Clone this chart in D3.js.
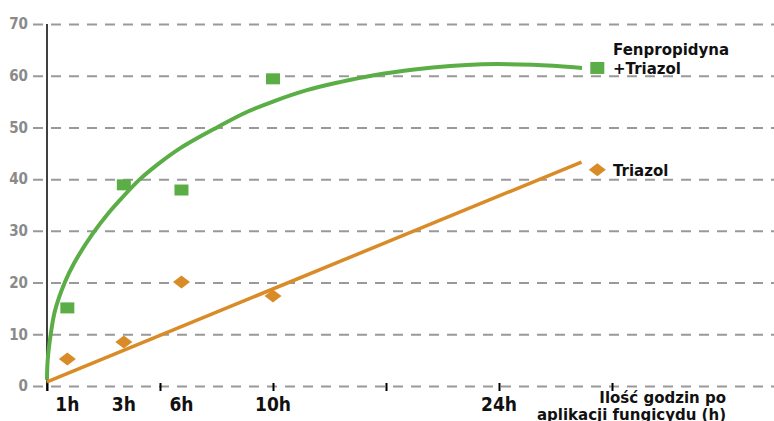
<!DOCTYPE html>
<html>
<head>
<meta charset="utf-8">
<script src="https://cdn.jsdelivr.net/npm/d3@7"></script>
<style>
  body { margin: 0; background: #fff; }
  svg { display: block; }
  .ylab { font-family: "Liberation Sans Narrow", "DejaVu Sans Condensed", sans-serif; font-weight: bold; font-size: 15px; fill: #8a8a8a; }
  .xlab { font-family: "Liberation Sans Narrow", "DejaVu Sans Condensed", sans-serif; font-weight: bold; font-size: 19px; fill: #111; }
  .ttl { font-family: "DejaVu Sans", sans-serif; font-weight: bold; font-size: 15px; fill: #111; }
</style>
</head>
<body>
<svg class="root"></svg>
<script>
// hour categories and where they sit along the (non-linear) x axis, in tick steps
var hours = ["1h", "3h", "6h", "10h", "24h"];
var hourPos = [0.18, 0.68, 1.19, 2.0, 4.0];

// measured points (first four categories)
var fenTriazol = [15.1, 38.9, 37.9, 59.4];
var triazol = [5.2, 8.5, 20.1, 17.4];

// fitted curve
var fitFenX = [0, 0.006, 0.033, 0.07, 0.157, 0.236, 0.403, 0.55, 0.664, 0.823, 1.0,
               1.18, 1.504, 1.75, 2.0, 2.3, 2.6, 2.87, 3.25, 3.85, 4.3, 4.735];
var fitFenY = [1.2, 5, 10, 14.5, 20, 23.6, 29.4, 33.6, 36.4, 40, 43.2,
               46.0, 50, 52.8, 55.0, 57.2, 58.8, 60, 61.2, 62.2, 62.1, 61.5];
var fitTriX = [0, 4.73];
var fitTriY = [0.8, 43.3];

// legend entries
var legendNames = [["Fenpropidyna", "+Triazol"], ["Triazol"]];
var legendY = [61.5, 41.8];
var legendX = 4.87;

var yTicks = [0, 10, 20, 30, 40, 50, 60, 70];
var xTicks = [0, 1, 2, 3, 4, 5];

var width = 774, height = 421,
    green = "#5bae46", orange = "#d98b27";

var svg = d3.select(".root").attr("width", width).attr("height", height);

var x = d3.scaleLinear().domain([0, 5]).range([47, 612]);
var y = d3.scaleLinear().domain([0, 70]).range([386, 24]);

// dashed grid + y labels
var yAxis = svg.append("g")
    .attr("transform", "translate(33,0)")
    .call(d3.axisLeft(y).tickValues(yTicks).tickSize(-(width - 33)).tickPadding(5));
yAxis.select(".domain").remove();
yAxis.selectAll("line")
    .attr("stroke", "#999")
    .attr("stroke-width", 2)
    .attr("stroke-dasharray", "10,8");
yAxis.selectAll("text").attr("class", "ylab").attr("font-size", null).attr("font-family", null);

// vertical axis line
svg.append("line")
    .attr("x1", x(0)).attr("x2", x(0))
    .attr("y1", y(70)).attr("y2", y(0) + 5)
    .attr("stroke", "#000").attr("stroke-width", 1.5);

// x ticks
var xAxis = svg.append("g")
    .attr("transform", "translate(0," + (y(0) - 3) + ")")
    .call(d3.axisBottom(x).tickValues(xTicks).tickSize(8).tickFormat(""));
xAxis.select(".domain").remove();
xAxis.selectAll("line").attr("stroke", "#000").attr("stroke-width", 2);

svg.selectAll(".xlab")
    .data(hours)
  .enter().append("text")
    .attr("class", "xlab")
    .attr("x", (d, i) => x(hourPos[i]))
    .attr("y", 411)
    .attr("text-anchor", "middle")
    .text(d => d);

// axis title
svg.append("text")
    .attr("class", "ttl")
    .attr("text-anchor", "end")
    .attr("x", 726).attr("y", 403)
    .text("Ilość godzin po");
svg.append("text")
    .attr("class", "ttl")
    .attr("text-anchor", "end")
    .attr("x", 726).attr("y", 420)
    .text("aplikacji fungicydu (h)");

// fitted lines
var line = d3.line()
    .x(d => x(d[0]))
    .y(d => y(d[1]))
    .curve(d3.curveCatmullRom.alpha(0.5));

svg.append("path")
    .datum(fitTriX.map((v, i) => [v, fitTriY[i]]))
    .attr("d", line)
    .attr("fill", "none")
    .attr("stroke", orange)
    .attr("stroke-width", 3.5);

svg.append("path")
    .datum(fitFenX.map((v, i) => [v, fitFenY[i]]))
    .attr("d", line)
    .attr("fill", "none")
    .attr("stroke", green)
    .attr("stroke-width", 4);

// markers
var diamond = (cx, cy) => "M" + (cx - 8.5) + "," + cy + "L" + cx + "," + (cy - 6.5) +
    "L" + (cx + 8.5) + "," + cy + "L" + cx + "," + (cy + 6.5) + "Z";

svg.selectAll(".sq")
    .data(fenTriazol)
  .enter().append("rect")
    .attr("class", "sq")
    .attr("x", (d, i) => x(hourPos[i]) - 7)
    .attr("y", d => y(d) - 5.5)
    .attr("width", 14).attr("height", 11)
    .attr("fill", green);

svg.selectAll(".dm")
    .data(triazol)
  .enter().append("path")
    .attr("class", "dm")
    .attr("d", (d, i) => diamond(x(hourPos[i]), y(d)))
    .attr("fill", orange);

// legend
svg.append("rect")
    .attr("x", x(legendX) - 7).attr("y", y(legendY[0]) - 6)
    .attr("width", 14).attr("height", 12)
    .attr("fill", green);
svg.append("path")
    .attr("d", diamond(x(legendX), y(legendY[1])))
    .attr("fill", orange);

svg.append("text")
    .attr("class", "ttl")
    .attr("x", 613).attr("y", 55)
    .text(legendNames[0][0]);
svg.append("text")
    .attr("class", "ttl")
    .attr("x", 613).attr("y", 74)
    .text(legendNames[0][1]);
svg.append("text")
    .attr("class", "ttl")
    .attr("x", 613).attr("y", 176)
    .text(legendNames[1][0]);
</script>
</body>
</html>
